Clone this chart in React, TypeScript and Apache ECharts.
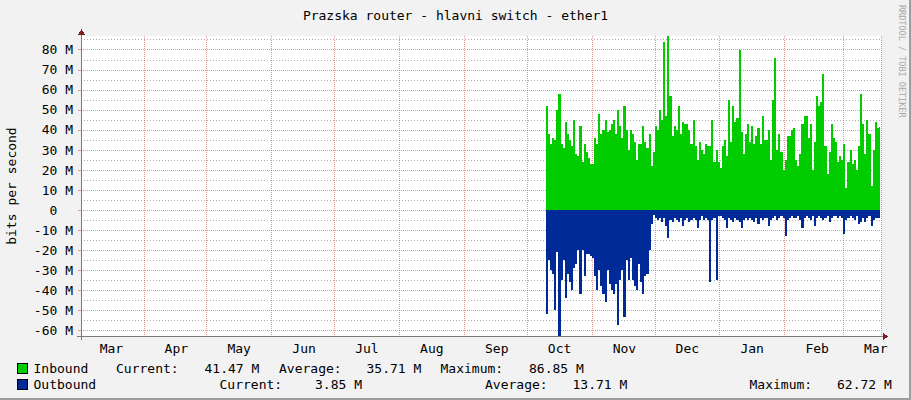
import React, { useEffect, useRef } from "react";
import * as echarts from "echarts";

// ---- data -------------------------------------------------------------
const START_YEAR = 2010;
const START_MONTH = 2; // March (0-based)
const START_DAY = 2;
const DAY_COUNT = 382; // 2010-03-02 .. 2011-03-18
const DATA_START_INDEX = 222; // 2010-10-10

const monthNames = ["Jan", "Feb", "Mar", "Apr", "May", "Jun", "Jul", "Aug", "Sep", "Oct", "Nov", "Dec"];

// Inbound traffic, Mbit/s, one value per day from 2010-10-10
const inbound = [
  52, 38, 33, 36, 35, 50, 58, 33, 31, 44,
  38, 35, 32, 45, 28, 27, 42, 24, 33, 29,
  26, 23, 23, 36, 33, 48, 38, 40, 45, 39,
  40, 43, 45, 38, 50, 42, 36, 52, 40, 30,
  40, 38, 34, 25, 33, 33, 42, 34, 31, 38,
  22, 29, 42, 40, 50, 45, 84, 47, 86.85, 57,
  37, 42, 40, 52, 38, 44, 43, 43, 40, 33,
  45, 32, 25, 34, 30, 28, 33, 32, 32, 45,
  24, 30, 24, 21, 32, 35, 27, 55, 34, 52,
  44, 46, 80, 39, 28, 38, 43, 34, 42, 33,
  37, 41, 33, 47, 35, 35, 40, 25, 55, 76,
  30, 38, 29, 20, 25, 37, 37, 40, 41, 25,
  22, 28, 43, 47, 47, 36, 43, 20, 34, 57,
  52, 54, 68, 32, 18, 29, 43, 36, 34, 24,
  27, 25, 33, 11, 24, 30, 23, 25, 20, 32,
  58, 43, 28, 45, 38, 12, 30, 44, 41, 41.47,
];

// Outbound traffic (drawn negative), Mbit/s, one value per day from 2010-10-10
const outbound = [
  -52, -25, -30, -32, -50, -21, -62.72, -35, -25, -44,
  -32, -36, -40, -29, -27, -20, -42, -20, -33, -22,
  -22, -23, -24, -33, -40, -30, -38, -42, -46, -30,
  -37, -40, -42, -37, -57, -35, -30, -53, -25, -35,
  -24, -35, -38, -40, -27, -36, -42, -33, -32, -20,
  -7, -2.5, -4, -5, -4, -6, -4, -8, -14, -5,
  -6, -4, -5, -6, -4, -8, -5, -4, -6, -5,
  -4, -5, -9, -5, -3, -5, -4, -5, -36, -5,
  -4, -35, -3, -3, -4, -5, -9, -4, -5, -6,
  -4, -5, -6, -9, -5, -4, -5, -4, -5, -6,
  -4, -7, -4, -5, -4, -4, -8, -5, -4, -3,
  -5, -4, -3, -4, -13, -5, -4, -3, -4, -4,
  -3, -5, -9, -4, -3, -4, -5, -3, -8, -4,
  -3, -4, -5, -4, -3, -6, -4, -3, -3, -4,
  -3, -4, -12, -5, -4, -3, -4, -5, -3, -7,
  -6, -4, -6, -4, -3, -8, -5, -4, -4, -3.85,
];

const Y_MIN = -62.72;
const Y_MAX = 86.85;
const yMajorTicks = [-60, -50, -40, -30, -20, -10, 0, 10, 20, 30, 40, 50, 60, 70, 80];
const yMinorTicks = [-55, -45, -35, -25, -15, -5, 5, 15, 25, 35, 45, 55, 65, 75, 85];

const titleText = "Prazska router - hlavni switch - ether1";
const yAxisName = "bits per second";
const watermark = "RRDTOOL / TOBI OETIKER";

const inboundLegend = ["Inbound", "Current:", "41.47 M", "Average:", "35.71 M", "Maximum:", "86.85 M"];
const outboundLegend = ["Outbound", "Current:", "3.85 M", "Average:", "13.71 M", "Maximum:", "62.72 M"];

// ---- layout / style ---------------------------------------------------
const FONT = '"DejaVu Sans Mono", monospace';
const GREEN = "#00cc00";
const BLUE = "#002a97";
const MGRID = "rgba(222,79,79,0.6)";
const MINGRID = "rgba(143,143,143,0.75)";
const AXIS = "#7a7a7a";
const ARROW = "#801f1f";
const NBSP = "\u00a0";

const inboundLegendX = [33.5, 116, 204.5, 279, 366.5, 440.5, 529];
const outboundLegendX = [33.5, 219.5, 315, 485, 572.5, 749.5, 837];

function buildCategories(): string[] {
  const out: string[] = [];
  const start = Date.UTC(START_YEAR, START_MONTH, START_DAY);
  for (let i = 0; i < DAY_COUNT; i++) {
    out.push(new Date(start + i * 86400000).toISOString().slice(0, 10));
  }
  return out;
}

function placeSeries(values: number[]): (number | null)[] {
  const arr: (number | null)[] = new Array(DAY_COUNT).fill(null);
  values.forEach((v, i) => {
    arr[DATA_START_INDEX + i] = v;
  });
  return arr;
}

function legendRow(texts: string[], xs: number[], y: number, color: string): any[] {
  const els: any[] = [
    {
      type: "rect",
      shape: { x: 17.5, y: y - 5, width: 10, height: 10 },
      style: { fill: color, stroke: "#000", lineWidth: 1 },
    },
  ];
  texts.forEach((t, i) => {
    els.push({
      type: "text",
      x: xs[i],
      y,
      style: { text: t, fill: "#000", font: `13px ${FONT}`, verticalAlign: "middle", align: "left" },
    });
  });
  return els;
}

export default function App() {
  const ref = useRef<HTMLDivElement>(null);

  useEffect(() => {
    if (!ref.current) return;
    const chart = echarts.init(ref.current, null, { renderer: "svg" });
    const categories = buildCategories();

    const option: any = {
      animation: false,
      backgroundColor: "#f2f2f2",
      grid: {
        left: 81,
        top: 36,
        width: 800,
        height: 300,
        containLabel: false,
        outerBoundsMode: "none",
        show: true,
        backgroundColor: "#ffffff",
        borderWidth: 0,
      },
      xAxis: {
        type: "category",
        data: categories,
        boundaryGap: true,
        axisLine: { show: true, onZero: false, lineStyle: { color: AXIS, width: 1 } },
        axisTick: { show: false },
        axisLabel: {
          interval: (_i: number, v: string) => v.endsWith("-16"),
          formatter: (v: string) => monthNames[parseInt(v.slice(5, 7), 10) - 1],
          color: "#000",
          fontFamily: FONT,
          fontSize: 13,
          margin: 6,
        },
        splitLine: {
          show: true,
          interval: (_i: number, v: string) => v.endsWith("-01"),
          lineStyle: { color: MGRID, type: [1, 1], width: 1 },
        },
      },
      yAxis: [
        {
          type: "value",
          min: Y_MIN,
          max: Y_MAX,
          name: yAxisName,
          nameLocation: "middle",
          nameRotate: 90,
          nameGap: 63,
          nameTextStyle: { color: "#000", fontFamily: FONT, fontSize: 13 },
          axisLine: { show: true, onZero: false, lineStyle: { color: AXIS, width: 1 } },
          axisTick: {
            show: true,
            length: 3,
            customValues: yMajorTicks,
            lineStyle: { color: MGRID },
          },
          axisLabel: {
            customValues: yMajorTicks,
            color: "#000",
            fontFamily: FONT,
            fontSize: 13,
            margin: 8,
            formatter: (v: number) => (v === 0 ? `0${NBSP}${NBSP}` : `${v} M`),
          },
          splitLine: { show: true, lineStyle: { color: MGRID, type: [1, 1], width: 1 } },
        },
        {
          type: "value",
          min: Y_MIN,
          max: Y_MAX,
          position: "left",
          axisLine: { show: false },
          axisTick: { show: false, customValues: yMinorTicks },
          axisLabel: { show: false, customValues: yMinorTicks },
          splitLine: { show: true, lineStyle: { color: MINGRID, type: [1, 2], width: 1 } },
        },
      ],
      series: [
        {
          name: "Inbound",
          type: "line",
          yAxisIndex: 0,
          data: placeSeries(inbound),
          step: "middle",
          symbol: "none",
          showSymbol: false,
          connectNulls: false,
          silent: true,
          lineStyle: { width: 0, color: GREEN },
          itemStyle: { color: GREEN },
          areaStyle: { color: GREEN, opacity: 1 },
          z: 3,
        },
        {
          name: "Outbound",
          type: "line",
          yAxisIndex: 0,
          data: placeSeries(outbound),
          step: "middle",
          symbol: "none",
          showSymbol: false,
          connectNulls: false,
          silent: true,
          lineStyle: { width: 0, color: BLUE },
          itemStyle: { color: BLUE },
          areaStyle: { color: BLUE, opacity: 1 },
          z: 3,
        },
      ],
      graphic: [
        {
          type: "text",
          x: 455.5,
          y: 15,
          style: { text: titleText, fill: "#000", font: `13px ${FONT}`, align: "center", verticalAlign: "middle" },
        },
        {
          type: "text",
          x: 902,
          y: 5,
          rotation: -Math.PI / 2,
          style: { text: watermark, fill: "#a8a8a8", font: `8.5px ${FONT}`, align: "left", verticalAlign: "middle" },
        },
        // axis extensions and arrows
        { type: "line", shape: { x1: 881, y1: 336.5, x2: 884, y2: 336.5 }, style: { stroke: AXIS, lineWidth: 1 } },
        { type: "line", shape: { x1: 77, y1: 336.5, x2: 81, y2: 336.5 }, style: { stroke: AXIS, lineWidth: 1 } },
        { type: "polygon", shape: { points: [[883, 333], [888, 336.5], [883, 340]] }, style: { fill: ARROW } },
        { type: "line", shape: { x1: 81.5, y1: 36, x2: 81.5, y2: 33 }, style: { stroke: AXIS, lineWidth: 1 } },
        { type: "line", shape: { x1: 81.5, y1: 336, x2: 81.5, y2: 340 }, style: { stroke: AXIS, lineWidth: 1 } },
        { type: "polygon", shape: { points: [[78, 35], [81.5, 29], [85, 35]] }, style: { fill: ARROW } },
        // frame shading
        { type: "rect", shape: { x: 909, y: 0, width: 2, height: 400 }, style: { fill: "#9e9e9e" } },
        { type: "rect", shape: { x: 0, y: 398, width: 911, height: 2 }, style: { fill: "#9e9e9e" } },
        ...legendRow(inboundLegend, inboundLegendX, 368, GREEN),
        ...legendRow(outboundLegend, outboundLegendX, 384, BLUE),
      ],
    };

    chart.setOption(option);
    return () => chart.dispose();
  }, []);

  return (
    <div className="rrd" style={{ position: "absolute", left: 0, top: 0, width: 911, height: 400 }}>
      <style>{".rrd svg path { shape-rendering: crispEdges; }"}</style>
      <div ref={ref} style={{ width: 911, height: 400 }} />
    </div>
  );
}
